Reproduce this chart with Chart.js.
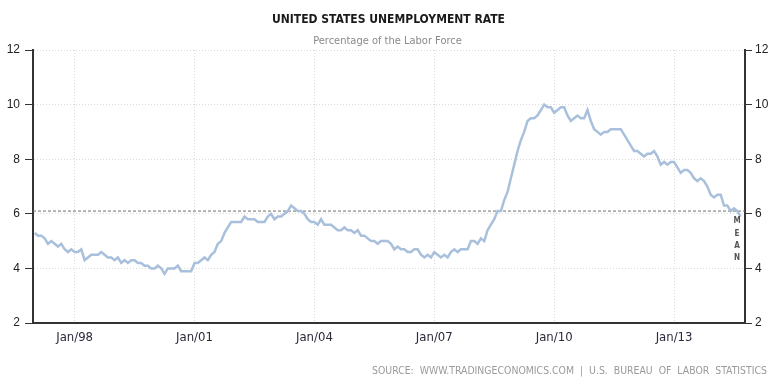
<!DOCTYPE html>
<html>
<head>
<meta charset="utf-8">
<script src="https://cdn.jsdelivr.net/npm/chart.js@4.4.1/dist/chart.umd.min.js"></script>
<style>
    body { margin: 0; background: #fff; }
    canvas { display: block; }
</style>
</head>
<body>
<canvas id="chart" width="780" height="386"></canvas>
<script>
// monthly unemployment rate, Jan 1997 .. Sep 2014 (one row per year)
const rates = [
    5.3, 5.2, 5.2, 5.1, 4.9, 5.0, 4.9, 4.8, 4.9, 4.7, 4.6, 4.7,
    4.6, 4.6, 4.7, 4.3, 4.4, 4.5, 4.5, 4.5, 4.6, 4.5, 4.4, 4.4,
    4.3, 4.4, 4.2, 4.3, 4.2, 4.3, 4.3, 4.2, 4.2, 4.1, 4.1, 4.0,
    4.0, 4.1, 4.0, 3.8, 4.0, 4.0, 4.0, 4.1, 3.9, 3.9, 3.9, 3.9,
    4.2, 4.2, 4.3, 4.4, 4.3, 4.5, 4.6, 4.9, 5.0, 5.3, 5.5, 5.7,
    5.7, 5.7, 5.7, 5.9, 5.8, 5.8, 5.8, 5.7, 5.7, 5.7, 5.9, 6.0,
    5.8, 5.9, 5.9, 6.0, 6.1, 6.3, 6.2, 6.1, 6.1, 6.0, 5.8, 5.7,
    5.7, 5.6, 5.8, 5.6, 5.6, 5.6, 5.5, 5.4, 5.4, 5.5, 5.4, 5.4,
    5.3, 5.4, 5.2, 5.2, 5.1, 5.0, 5.0, 4.9, 5.0, 5.0, 5.0, 4.9,
    4.7, 4.8, 4.7, 4.7, 4.6, 4.6, 4.7, 4.7, 4.5, 4.4, 4.5, 4.4,
    4.6, 4.5, 4.4, 4.5, 4.4, 4.6, 4.7, 4.6, 4.7, 4.7, 4.7, 5.0,
    5.0, 4.9, 5.1, 5.0, 5.4, 5.6, 5.8, 6.1, 6.1, 6.5, 6.8, 7.3,
    7.8, 8.3, 8.7, 9.0, 9.4, 9.5, 9.5, 9.6, 9.8, 10.0, 9.9, 9.9,
    9.7, 9.8, 9.9, 9.9, 9.6, 9.4, 9.5, 9.6, 9.5, 9.5, 9.8, 9.4,
    9.1, 9.0, 8.9, 9.0, 9.0, 9.1, 9.1, 9.1, 9.1, 8.9, 8.7, 8.5,
    8.3, 8.3, 8.2, 8.1, 8.2, 8.2, 8.3, 8.1, 7.8, 7.9, 7.8, 7.9,
    7.9, 7.7, 7.5, 7.6, 7.6, 7.5, 7.3, 7.2, 7.3, 7.2, 7.0, 6.7,
    6.6, 6.7, 6.7, 6.3, 6.3, 6.1, 6.2, 6.1, 5.9
];
const meanRate = 6.1;

// x ticks: months counted from Jan 1997
const tickMonths = [12, 48, 84, 120, 156, 192];
const tickLabels = ['Jan/98', 'Jan/01', 'Jan/04', 'Jan/07', 'Jan/10', 'Jan/13'];

const xMin = -0.5;
const xMax = 213.3;

const condensed = '"DejaVu Sans Condensed", "DejaVu Sans", sans-serif';
const yFont = { family: '"Liberation Sans", Arial, sans-serif', size: 12 };
const xFont = { family: condensed, size: 13 };

const textPlugin = {
    id: 'texts',
    afterDraw(chart) {
        const ctx = chart.ctx;
        ctx.save();
        ctx.textAlign = 'center';
        ctx.textBaseline = 'middle';

        ctx.fillStyle = '#1a1a1a';
        ctx.font = 'bold 13px ' + condensed;
        ctx.fillText('UNITED STATES UNEMPLOYMENT RATE', 388.5, 20, 233);

        ctx.fillStyle = '#8a8a8a';
        ctx.font = '11px ' + condensed;
        ctx.fillText('Percentage of the Labor Force', 387.5, 41, 153);

        ctx.textAlign = 'right';
        ctx.fillStyle = '#9a9a9a';
        ctx.font = '11px ' + condensed;
        ctx.fillText('SOURCE:  WWW.TRADINGECONOMICS.COM  |  U.S.  BUREAU  OF  LABOR  STATISTICS', 767, 371.5, 395);

        // MEAN, written downwards just under the mean line
        const x = chart.scales.x.getPixelForValue(xMax) - 8;
        const y0 = chart.scales.y.getPixelForValue(meanRate);
        ctx.textAlign = 'center';
        ctx.fillStyle = '#555';
        ctx.font = 'bold 8px ' + condensed;
        'MEAN'.split('').forEach((ch, i) => {
            ctx.fillText(ch, x, y0 + 10 + i * 12.4);
        });
        ctx.restore();
    }
};

new Chart(document.getElementById('chart').getContext('2d'), {
    type: 'line',
    data: {
        datasets: [
            {
                label: 'Unemployment rate',
                data: rates.map((v, i) => ({ x: i, y: v })),
                borderColor: '#a9c0dc',
                borderWidth: 2.5,
                pointRadius: 0,
                tension: 0,
                order: 1
            },
            {
                label: 'Mean',
                data: [{ x: xMin, y: meanRate }, { x: xMax, y: meanRate }],
                borderColor: '#6e6e6e',
                borderWidth: 1,
                borderDash: [3, 2],
                pointRadius: 0,
                order: 2
            }
        ]
    },
    options: {
        responsive: false,
        animation: false,
        layout: { padding: { top: 50, bottom: 35, left: 0, right: 0 } },
        plugins: {
            legend: { display: false },
            tooltip: { enabled: false }
        },
        scales: {
            x: {
                type: 'linear',
                min: xMin,
                max: xMax,
                afterBuildTicks: scale => {
                    scale.ticks = tickMonths.map(v => ({ value: v }));
                },
                afterFit: scale => { scale.height = 28; },
                ticks: {
                    padding: 7,
                    color: '#2a2a3a',
                    font: xFont,
                    maxRotation: 0,
                    autoSkip: false,
                    callback: value => tickLabels[tickMonths.indexOf(value)]
                },
                grid: {
                    color: '#dadada',
                    drawTicks: false
                },
                border: { color: '#333', width: 2, dash: [1, 2] }
            },
            y: {
                position: 'left',
                min: 2,
                max: 12,
                afterFit: scale => { scale.width = 33; },
                ticks: {
                    stepSize: 2,
                    padding: 5,
                    color: '#222',
                    font: yFont
                },
                grid: {
                    color: '#dadada',
                    tickColor: '#333',
                    tickLength: 8,
                    tickBorderDash: []
                },
                border: { color: '#333', width: 2, dash: [1, 2] }
            },
            y2: {
                position: 'right',
                min: 2,
                max: 12,
                afterFit: scale => { scale.width = 35; },
                ticks: {
                    stepSize: 2,
                    padding: 3,
                    color: '#222',
                    font: yFont
                },
                grid: {
                    drawOnChartArea: false,
                    tickColor: '#333',
                    tickLength: 7
                },
                border: { color: '#333', width: 2 }
            }
        }
    },
    plugins: [textPlugin]
});
</script>
</body>
</html>
